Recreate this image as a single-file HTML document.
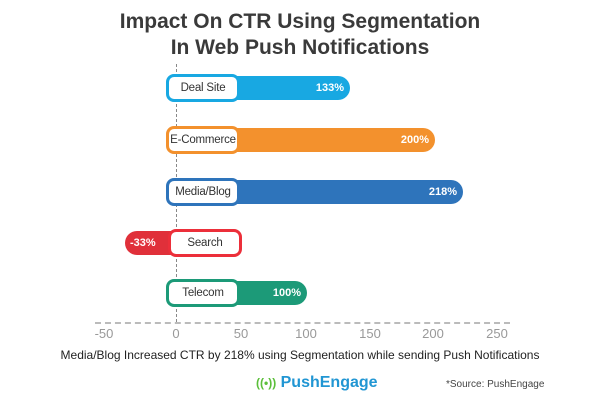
<!DOCTYPE html>
<html><head><style>
body{margin:0;width:600px;height:400px;background:#fff;font-family:"Liberation Sans",sans-serif;position:relative;overflow:hidden;color:#333}
.t{position:absolute;left:0;width:600px;text-align:center;font-weight:bold;font-size:21px;color:#3a3a3a}
.bar{position:absolute;height:24px;border-radius:12px;color:#fff;font-weight:bold;font-size:11px;line-height:24px;box-sizing:border-box}
.lab{position:absolute;width:74px;height:28px;border:3px solid;border-radius:8px;background:#fff;box-sizing:border-box;text-align:center;line-height:22px;font-size:11.5px;color:#333;white-space:nowrap;letter-spacing:-0.2px}
.tick{position:absolute;top:326px;font-size:13px;color:#999;width:40px;text-align:center}
</style></head><body>
<div class="t" style="top:10px">Impact On CTR Using Segmentation</div>
<div class="t" style="top:36px">In Web Push Notifications</div>
<div style="position:absolute;left:176px;top:64px;height:258px;border-left:1px dashed #888"></div>
<div style="position:absolute;left:95px;top:322px;width:415px;border-top:2px dashed #bbb"></div>

<div class="bar" style="left:200px;width:150px;top:76px;background:#18a8e2;text-align:right;padding-right:6px">133%</div>
<div class="lab" style="left:166px;top:74px;border-color:#18a8e2">Deal Site</div>

<div class="bar" style="left:200px;width:235px;top:128px;background:#f3912d;text-align:right;padding-right:6px">200%</div>
<div class="lab" style="left:166px;top:126px;border-color:#f3912d">E-Commerce</div>

<div class="bar" style="left:200px;width:263px;top:180px;background:#2e74bb;text-align:right;padding-right:6px">218%</div>
<div class="lab" style="left:166px;top:178px;border-color:#2e74bb">Media/Blog</div>

<div class="bar" style="left:125px;width:70px;top:231px;background:#e0303a;padding-left:5px">-33%</div>
<div class="lab" style="left:168px;top:229px;border-color:#ec2f3a">Search</div>

<div class="bar" style="left:200px;width:107px;top:281px;background:#1c9a78;text-align:right;padding-right:6px">100%</div>
<div class="lab" style="left:166px;top:279px;border-color:#1c9a78">Telecom</div>

<div class="tick" style="left:84px">-50</div>
<div class="tick" style="left:156px">0</div>
<div class="tick" style="left:221px">50</div>
<div class="tick" style="left:286px">100</div>
<div class="tick" style="left:350px">150</div>
<div class="tick" style="left:413px">200</div>
<div class="tick" style="left:477px">250</div>

<div style="position:absolute;top:348px;left:0;width:600px;text-align:center;font-size:12px;color:#222">Media/Blog Increased CTR by 218% using Segmentation while sending Push Notifications</div>
<div style="position:absolute;top:374px;left:256px;font-size:16px;font-weight:bold;color:#2196d3"><span style="color:#5bbf3a;font-size:12px">((•))</span> PushEngage</div>
<div style="position:absolute;top:379px;left:446px;font-size:10px;color:#444">*Source: PushEngage</div>
</body></html>
